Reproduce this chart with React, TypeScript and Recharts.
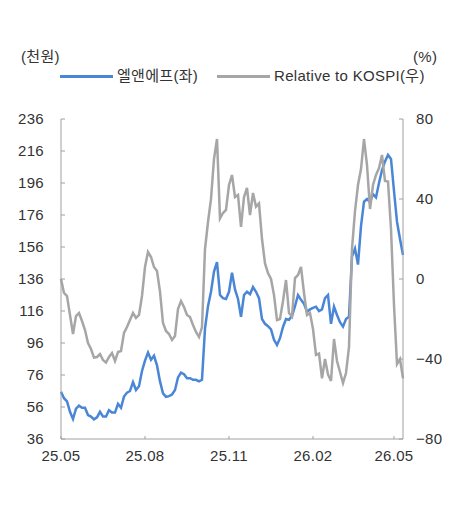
import React from 'react';
import { LineChart, Line, XAxis, YAxis } from 'recharts';

// Month labels on the time axis and the sample index each one sits at
const xTickLabels = ['25.05', '25.08', '25.11', '26.02', '26.05'];
const xTickAt = [0, 28, 56, 84, 111];

// Left axis: share price (thousand won); right axis: relative return vs KOSPI (%)
const leftTicks = [36, 56, 76, 96, 116, 136, 156, 176, 196, 216, 236];
const rightTicks = [-80, -40, 0, 40, 80];

// 엘앤에프 share price, thousand won
const priceK = [
  65.5, 61.5, 59.5, 53, 48.5, 55, 56.8, 55.5, 55.5, 51,
  50, 48.3, 49.5, 53, 50, 50, 54, 52.5, 52.5, 58,
  55.5, 62.5, 65, 66, 71.5, 66.6, 69, 78.5, 85, 90,
  85.5, 88, 82, 72, 64.5, 62.4, 62.8, 63.8, 66.6, 74.5,
  77.5, 76.5, 74, 74, 73, 73, 72, 73, 105, 119,
  128, 140.6, 146.5, 126, 124, 123.5, 128, 140, 129.5, 123.5,
  112.4, 126, 128, 126.5, 131, 128, 124, 111, 108, 106.5,
  104.5, 98, 94.8, 99, 106, 111, 110.5, 113, 119, 126,
  123, 120.5, 115.5, 117, 118, 118.7, 116, 117, 124, 126,
  108, 118.7, 113.5, 109, 106.2, 111, 112.4, 150, 155, 145,
  169, 184.3, 186, 184, 189, 187, 196, 204, 209.5, 213.5,
  211, 191, 171.8, 161, 151,
];

// Relative performance against KOSPI, %
const relKospi = [
  0, -7, -8.5, -18, -27.5, -18.5, -17, -21, -25.5, -32,
  -35, -39.3, -39, -37.5, -40.5, -41.8, -39, -37, -41, -36.5,
  -36, -27, -24, -20.5, -17, -19.5, -18, -8.5, 6, 13.5,
  11, 6, 4, -6.3, -22, -26, -27.5, -30.5, -28.5, -15,
  -11, -14, -18, -19, -23, -26.5, -29, -24, 15, 28.5,
  40, 60, 70, 30.3, 33, 34.5, 47, 52, 41, 42,
  26, 41, 45.5, 32, 43, 36.2, 37.8, 20, 7.8, 3,
  0, -8, -20.5, -20, -11, -0.5, -17, -18.8, 0.5, 2,
  6, -7, -18, -17, -25, -38, -37.3, -49.7, -40, -47.7,
  -51, -30, -41, -46.5, -52, -47, -34, 15, 34, 47,
  55, 70, 57, 35, 47, 52, 55.5, 62, 49, 48.7,
  25, -13, -42.5, -40, -49.7,
];

const series = [
  { key: 'price', name: '엘앤에프(좌)', color: '#4a86d6', axis: 'left' },
  { key: 'rel', name: 'Relative to KOSPI(우)', color: '#a6a6a6', axis: 'right' },
];

const data = priceK.map((v, i) => ({ i, price: v, rel: relKospi[i] }));

const FONT = "'Liberation Sans', 'Noto Sans CJK KR', sans-serif";
const TEXT = '#333333';
const AXIS = '#a0a0a0';

const tickStyle = { fill: TEXT, fontSize: 15, fontFamily: FONT, letterSpacing: 0.3 };

const fmtSigned = (v: number) => (v < 0 ? '\u2212' + Math.abs(v) : String(v));
const fmtMonth = (v: number) => {
  const k = xTickAt.indexOf(v);
  return k >= 0 ? xTickLabels[k] : '';
};

export default function App() {
  return (
    <div style={{ position: 'relative', width: 461, height: 494, fontFamily: FONT, color: TEXT }}>
      <div style={{ position: 'absolute', left: -5, top: -3, width: 466, height: 2, background: '#808080' }} />

      <span style={{ position: 'absolute', left: 13, top: 40, fontSize: 15, lineHeight: '18px', letterSpacing: 0.3 }}>(천원)</span>
      <span style={{ position: 'absolute', left: 405, top: 40, fontSize: 15, lineHeight: '18px', letterSpacing: 0.3 }}>(%)</span>

      {series.map((s, k) => {
        const lineLeft = k === 0 ? 52 : 209;
        return (
          <React.Fragment key={s.key}>
            <div style={{ position: 'absolute', left: lineLeft, top: 66.5, width: 53, height: 3, background: s.color }} />
            <span style={{ position: 'absolute', left: lineLeft + 57, top: 59, fontSize: 15, lineHeight: '18px', letterSpacing: 0.3, whiteSpace: 'nowrap' }}>
              {s.name}
            </span>
          </React.Fragment>
        );
      })}

      <LineChart width={461} height={494} data={data} margin={{ top: 111, right: 0, bottom: 33, left: 0 }}>
        <XAxis
          dataKey="i"
          type="number"
          domain={[0, priceK.length - 1]}
          ticks={xTickAt}
          tickFormatter={fmtMonth}
          interval={0}
          height={30}
          axisLine={{ stroke: AXIS }}
          tickLine={{ stroke: AXIS }}
          tickSize={-3}
          tickMargin={14}
          tick={tickStyle}
        />
        <YAxis
          yAxisId="left"
          orientation="left"
          width={53}
          domain={[36, 236]}
          ticks={leftTicks}
          interval={0}
          axisLine={{ stroke: AXIS }}
          tickLine={{ stroke: AXIS }}
          tickSize={-4}
          tickMargin={21}
          tick={tickStyle}
        />
        <YAxis
          yAxisId="right"
          orientation="right"
          width={66}
          domain={[-80, 80]}
          ticks={rightTicks}
          interval={0}
          tickFormatter={fmtSigned}
          axisLine={{ stroke: AXIS }}
          tickLine={{ stroke: AXIS }}
          tickSize={-4}
          tickMargin={17}
          tick={{ ...tickStyle, textAnchor: 'start' }}
        />
        {series.map((s) => (
          <Line
            key={s.key}
            yAxisId={s.axis}
            dataKey={s.key}
            name={s.name}
            type="linear"
            stroke={s.color}
            strokeWidth={2.5}
            dot={false}
            activeDot={false}
            isAnimationActive={false}
          />
        ))}
      </LineChart>
    </div>
  );
}
